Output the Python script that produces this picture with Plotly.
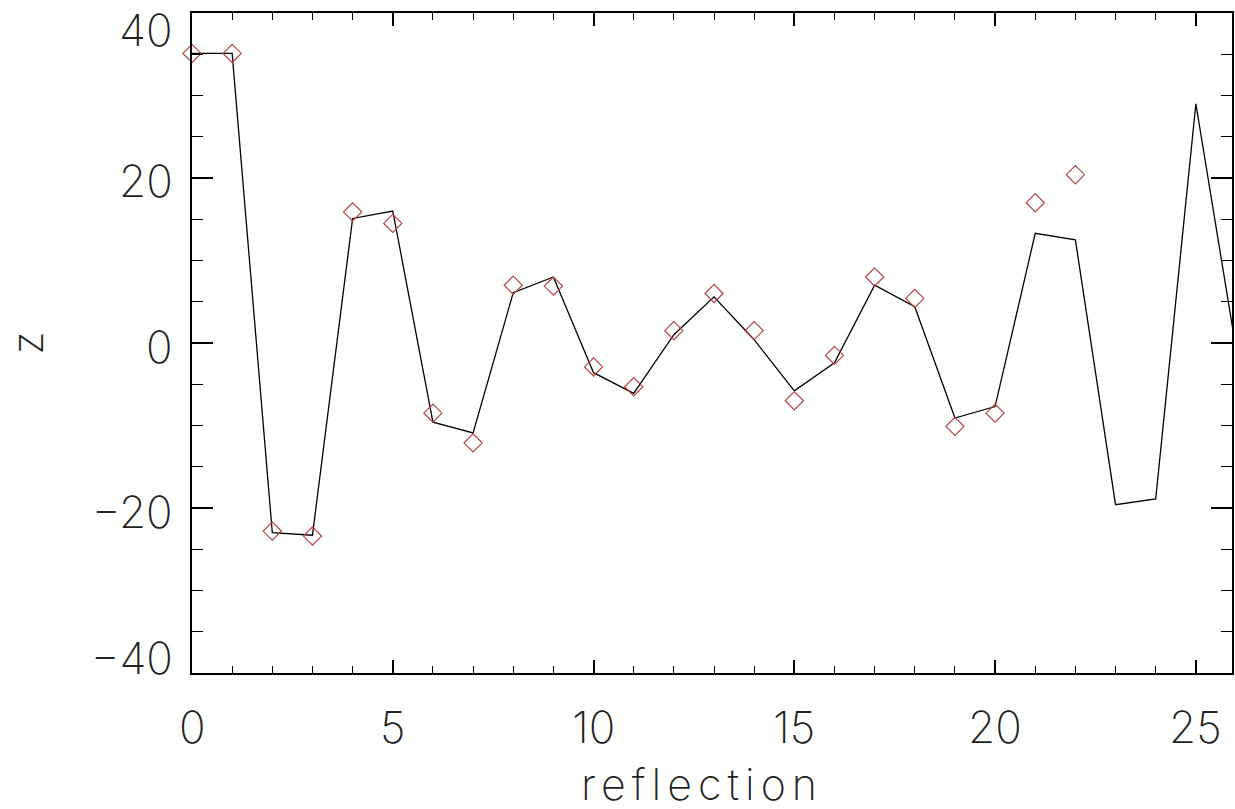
import plotly.graph_objects as go

# reflection index for the fitted line
x_line = list(range(27))
z_line = [35.1, 35.1, -23.0, -23.3, 15.1, 16.0, -9.6, -10.9, 6.1, 8.0,
          -3.6, -6.1, 1.0, 5.6, 0.4, -5.8, -2.4, 7.0, 4.4, -9.1,
          -7.7, 13.3, 12.5, -19.6, -18.9, 29.0, -0.7]

# observed values (diamonds)
x_obs = list(range(23))
z_obs = [35.1, 35.1, -22.8, -23.4, 15.9, 14.5, -8.5, -12.1, 7.0, 6.9,
         -2.9, -5.3, 1.5, 6.0, 1.5, -7.0, -1.5, 8.0, 5.4, -10.1,
         -8.5, 17.0, 20.4]

x_tickvals = [0, 5, 10, 15, 20, 25]
x_ticktext = ["0", "5", "10", "15", "20", "25"]
y_tickvals = [40, 20, 0, -20, -40]
y_ticktext = ["40", "20", "0", "\u221220", "\u221240"]
y_label_shift = [-17, -3, -4, -4, 15]   # keep end labels inside the page, as in the reference

x_title = "reflection"
y_title = "z"

FONT = dict(family="Inter, DejaVu Sans, sans-serif", size=44, color="#222222", weight=200)

fig = go.Figure()
fig.add_trace(go.Scatter(x=x_line, y=z_line, mode="lines",
                         line=dict(color="black", width=1.3), showlegend=False))
fig.add_trace(go.Scatter(x=x_obs, y=z_obs, mode="markers",
                         marker=dict(symbol="diamond-open", size=14,
                                     color="#b84444", line=dict(width=1.2, color="#b84444")),
                         showlegend=False, cliponaxis=False))

for v, t, s in zip(y_tickvals, y_ticktext, y_label_shift):
    fig.add_annotation(x=0, xref="paper", y=v, yref="y", text=t, showarrow=False,
                       xanchor="right", yanchor="middle", xshift=-17, yshift=s, font=FONT)

for v, t in zip(x_tickvals, x_ticktext):
    fig.add_annotation(x=v, xref="x", y=0, yref="paper", text=t, showarrow=False,
                       xanchor="center", yanchor="middle", yshift=-54, font=FONT)

fig.add_annotation(x=0.49, xref="paper", y=0, yref="paper",
                   text="<span style='letter-spacing:6px'>" + x_title + "</span>",
                   showarrow=False, xanchor="center", yanchor="middle", yshift=-111,
                   font=dict(FONT, size=43))

fig.update_layout(
    width=1235, height=809,
    margin=dict(l=192, r=1, t=13, b=136),
    paper_bgcolor="white", plot_bgcolor="white",
    font=FONT,
)
fig.update_xaxes(
    range=[0, 25.9], tick0=0, dtick=5, ticks="inside", ticklen=13, tickwidth=1.5,
    tickcolor="black", showline=True, linecolor="black", linewidth=1.5,
    mirror="ticks", showgrid=False, zeroline=False, showticklabels=False,
    minor=dict(dtick=1, ticks="inside", ticklen=7, tickwidth=1.3, tickcolor="black", showgrid=False),
)
fig.update_yaxes(
    range=[-40, 40], tick0=0, dtick=20, ticks="inside", ticklen=21, tickwidth=1.5,
    tickcolor="black", showline=True, linecolor="black", linewidth=1.5,
    mirror="ticks", showgrid=False, zeroline=False, showticklabels=False,
    minor=dict(dtick=5, ticks="inside", ticklen=11, tickwidth=1.3, tickcolor="black", showgrid=False),
    title=dict(text=y_title, standoff=150, font=FONT),
)

fig.write_html("out.html")
